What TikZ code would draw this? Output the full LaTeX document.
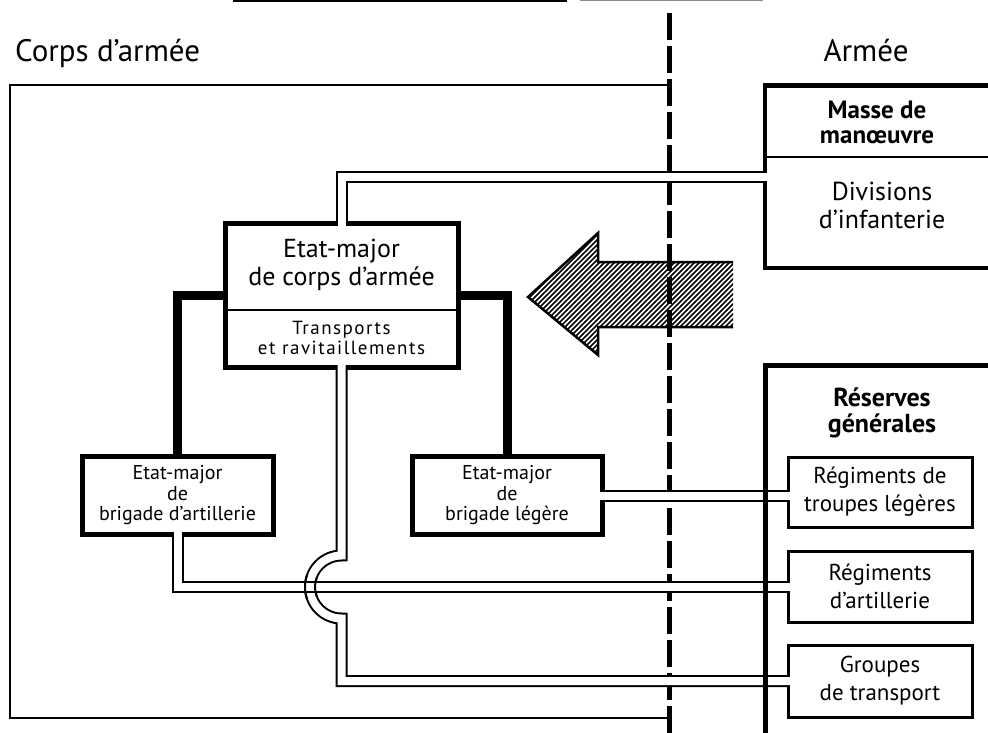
\documentclass[tikz,border=0pt]{standalone}
\usepackage{fontspec}
\setmainfont{PT Sans}
\newcommand\fz[2]{\fontsize{#1}{#2}\selectfont}
\begin{document}
\begin{tikzpicture}[x=1pt,y=-1pt,line join=miter,
  thickbox/.style={draw,line width=5pt,outer sep=0pt,inner sep=0pt,align=center},
  thinbox/.style={draw,line width=3pt,outer sep=0pt,inner sep=0pt,align=center},
  lbl/.style={inner sep=0pt,align=center},
  pipeb/.style={line width=12pt},
  pipew/.style={line width=8pt,white,shorten <=-4pt,shorten >=-4pt},
  link/.style={line width=9pt},
  hatch/.style={line width=1.5pt}]
\useasboundingbox (0,0) rectangle (988,733);
\fill[white] (0,0) rectangle (988,733);
\clip (0,0) rectangle (988,733);

% cut-off line at the top
\draw[line width=1.5pt] (233,0.8) -- (567,0.8);
\draw[line width=1.2pt,black!45] (580,0.8) -- (763,0.8);

% Corps d'armee frame and dashed border
\draw[line width=2.5pt] (669,85) -- (10,85) -- (10,718) -- (669,718);
\coordinate (dtop) at (669,13);
\coordinate (dbot) at (669,740);
\draw[line width=5pt,dash pattern=on 27pt off 6pt] (dtop) -- (dbot);

% Masse de manoeuvre box (open to the right)
\draw[line width=4.5pt] (995,85.5) -- (765,85.5) -- (765,268) -- (995,268);
\draw[line width=2.5pt] (765,157) -- (995,157);

% titles
\node[anchor=base west,inner sep=0pt,font=\fz{31}{36}] (corps) at (15,62) {Corps d'armée};
\node[anchor=base,inner sep=0pt,font=\fz{31}{36}] (armee) at (866,62) {Armée};

% boxes
\node[thickbox,minimum width=233pt,minimum height=144pt] (emc) at (341.5,295) {};
\draw[line width=2.5pt] (emc.west |- 0,310) -- (emc.east |- 0,310);
\node[lbl,font=\fz{26}{28}] (emtop) at (341.5,265) {Etat-major\\de corps d'armée};
\node[lbl,font=\fz{19}{20}\addfontfeature{LetterSpace=8}] (emlow) at (341.5,338) {Transports\\et ravitaillements};

\node[thickbox,minimum width=191pt,minimum height=78pt,font=\fz{20}{20.5}] (art) at (177.5,495.5) {Etat-major\\de\\brigade d'artillerie};
\node[thickbox,minimum width=190pt,minimum height=78pt,font=\fz{20}{20.5}] (leg) at (507,495.5) {Etat-major\\de\\brigade légère};

\node[thinbox,minimum width=184pt,minimum height=70pt,font=\fz{23}{28}] (reg1) at (880,492) {Régiments de\\troupes légères};
\node[thinbox,minimum width=184pt,minimum height=71pt,font=\fz{23}{28}] (reg2) at (880,586.5) {Régiments\\d'artillerie};
\node[thinbox,minimum width=184pt,minimum height=72pt,font=\fz{23}{28}] (reg3) at (880,681) {Groupes\\de transport};

\node[lbl,font=\fz{25}{25}\bfseries] (masse) at (877,122) {Masse de\\manœuvre};
\node[lbl,font=\fz{26}{28}] (div) at (882,205) {Divisions\\d'infanterie};
\node[lbl,font=\fz{26}{26}\bfseries] (res) at (882,413) {Réserves\\générales};

\coordinate (massein) at (765,177);
\coordinate (hoptop) at (341.5,555.5);
\coordinate (hopc) at (341.5,587);

% thick command links
\draw[link] (emc.west) -| (art.north);
\draw[link] (emc.east) -| (leg.north);

% double-line (pipe) links
\draw[pipeb] (emc.north) |- (massein);
\draw[pipew] (emc.north) |- (massein);
\draw[pipeb] (emc.south) -- (hoptop) arc[start angle=270,end angle=90,radius=31.5] |- (reg3.west);
\draw[pipew] (emc.south) -- (hoptop) arc[start angle=270,end angle=90,radius=31.5] |- (reg3.west);
\draw[pipeb] (art.south) |- (reg2.west);
\draw[pipew] (art.south) |- (reg2.west);
\draw[line width=2pt] (hopc) ++(200:36.5) arc[start angle=200,end angle=160,radius=36.5];
\draw[line width=2pt] (hopc) ++(200:26.5) arc[start angle=200,end angle=160,radius=26.5];
\draw[pipeb] (leg.east) -- (leg.east -| reg1.west);
\draw[pipew] (leg.east) -- (leg.east -| reg1.west);

% Reserves generales box (open to the right and bottom)
\draw[line width=5pt] (995,365) -- (765,365) -- (765,740);

% hatched arrow
\begin{scope}
\clip (528,297) -- (598,233) -- (598,262) -- (733,262) -- (733,327) -- (598,327) -- (598,355) -- cycle;
\foreach \i in {390,395,...,740} \draw[hatch] (\i,362) -- ++(135,-135);
\end{scope}
\draw[line width=2.5pt] (733,262) -- (598,262) -- (598,233) -- (528,297) -- (598,355) -- (598,327) -- (733,327);
\end{tikzpicture}
\end{document}
